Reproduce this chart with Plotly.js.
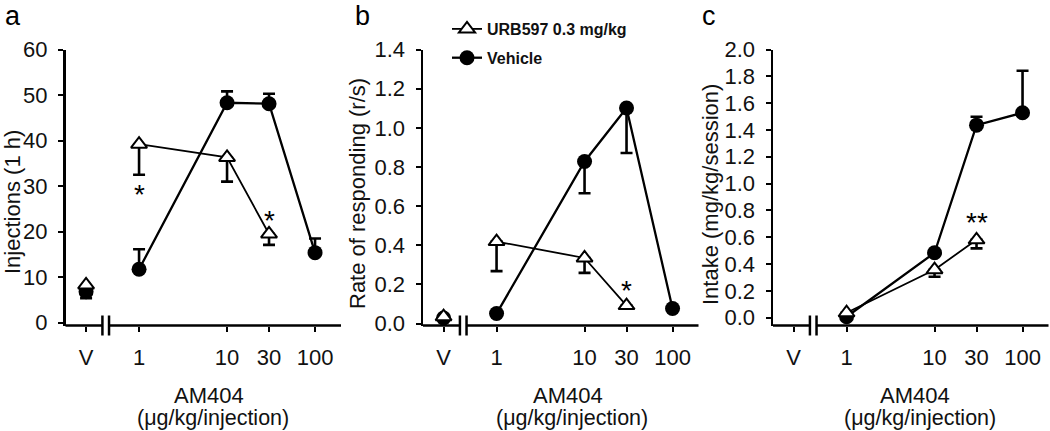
<!DOCTYPE html>
<html>
<head>
<meta charset="utf-8">
<script src="https://cdn.plot.ly/plotly-3.0.1.min.js"></script>
<style>html,body{margin:0;padding:0;background:#fff;}#chart{width:1050px;height:431px;}</style>
</head>
<body>
<div id="chart"></div>
<script>
// ---- data ----
const doses = [1, 10, 30, 100];
const urbDoses = [1, 10, 30];
const tickVals = [0.25, 1, 10, 30, 100];
const tickText = ['V', '1', '10', '30', '100'];
const vehicleX = [0.25];

// Panel a: Injections (1 h)
const aUrbV = [8.3];
const aVehV = [6.8];
const aVehVErr = [1.4];
const aUrb = [39.2, 36.3, 19.5];
const aUrbErr = [6.7, 5.3, 2.4];
const aVeh = [11.75, 48.3, 48.1, 15.4];
const aVehErr = [4.4, 2.5, 2.2, 3.1];
const aStarX = [1, 30];
const aStarY = [29.6, 24.1];
const aStarText = ['*', '*'];

// Panel b: Rate of responding (r/s)
const bUrbV = [0.035];
const bVehV = [0.028];
const bUrb = [0.419, 0.335, 0.092];
const bUrbErr = [0.151, 0.076, 0];
const bVeh = [0.051, 0.828, 1.101, 0.077];
const bVehErr = [0, 0.162, 0.23, 0];
const bStarX = [30];
const bStarY = [0.206];
const bStarText = ['*'];

// Panel c: Intake (mg/kg/session)
const cUrb = [0.037, 0.358, 0.581];
const cUrbErr = [0, 0.052, 0.064];
const cVeh = [0.007, 0.484, 1.436, 1.528];
const cVehErr = [0, 0, 0.062, 0.313];
const cStarX = [30];
const cStarY = [0.765];
const cStarText = ['**'];

const yTitles = ['Injections (1 h)', 'Rate of responding (r/s)', 'Intake (mg/kg/session)'];
const xTitle1 = 'AM404';
const xTitle2 = '(\u03bcg/kg/injection)';
const panelLetters = ['a', 'b', 'c'];
const seriesNames = ['URB597 0.3 mg/kg', 'Vehicle'];

// ---- styles ----
const FONT = 'Arial, "Liberation Sans", sans-serif';
const W = 1050, H = 431;
const axisLeft = [65.5, 423, 773];
const axisWidth = 275.5;
const yDomain = [1 - 325.5 / H, 1 - 49.5 / H];

function circTrace(x, y, err, dir, xa, ya, legend) {
  return {
    x: x, y: y, xaxis: xa, yaxis: ya, type: 'scatter', mode: 'lines+markers',
    name: seriesNames[1], showlegend: !!legend, legendgroup: 'veh', legendrank: 2,
    line: {color: '#000', width: 2.3},
    marker: {symbol: 'circle', size: 15, color: '#000', line: {color: '#000', width: 0}},
    error_y: {type: 'data', symmetric: false,
      array: dir === 'up' ? err : err.map(() => 0),
      arrayminus: dir === 'down' ? err : err.map(() => 0),
      color: '#000', thickness: 2.6, width: 6},
    hoverinfo: 'x+y'
  };
}
function triTrace(x, y, err, xa, ya, legend) {
  const t = {
    x: x, y: y, xaxis: xa, yaxis: ya, type: 'scatter', mode: 'lines+markers',
    name: seriesNames[0], showlegend: !!legend, legendgroup: 'urb', legendrank: 1,
    line: {color: '#000', width: 1.8},
    marker: {symbol: 'triangle-up', size: 14, color: '#fff', line: {color: '#000', width: 2}},
    hoverinfo: 'x+y'
  };
  if (err) {
    t.error_y = {type: 'data', symmetric: false, array: err.map(() => 0), arrayminus: err,
      color: '#000', thickness: 2.6, width: 6};
  }
  return t;
}

const traces = [
  // panel a
  circTrace(vehicleX, aVehV, aVehVErr, 'down', 'x', 'y', false),
  circTrace(doses, aVeh, aVehErr, 'up', 'x', 'y', true),
  triTrace(vehicleX, aUrbV, null, 'x', 'y', false),
  triTrace(urbDoses, aUrb, aUrbErr, 'x', 'y', true),
  // panel b
  circTrace(vehicleX, bVehV, [0], 'down', 'x2', 'y2', false),
  circTrace(doses, bVeh, bVehErr, 'down', 'x2', 'y2', false),
  triTrace(vehicleX, bUrbV, null, 'x2', 'y2', false),
  triTrace(urbDoses, bUrb, bUrbErr, 'x2', 'y2', false),
  // panel c
  circTrace(doses, cVeh, cVehErr, 'up', 'x3', 'y3', false),
  triTrace(urbDoses, cUrb, cUrbErr, 'x3', 'y3', false)
];

const tickFont = {family: FONT, size: 22, color: '#111'};
function xAxis(i, yName) {
  const x0 = axisLeft[i] / W;
  return {
    type: 'log', range: [-0.836, 2.295], domain: [x0, x0 + axisWidth / W],
    anchor: yName, tickmode: 'array', tickvals: tickVals, ticktext: tickText,
    ticks: 'outside', ticklen: 5, tickwidth: 2, tickcolor: '#000',
    showline: false, showgrid: false, zeroline: false, tickfont: tickFont,
    ticklabelstandoff: 7, fixedrange: true
  };
}
function yAxis(i, xName, range, dtick, fmt) {
  return {
    range: range, domain: yDomain, anchor: xName, tick0: 0, dtick: dtick,
    tickformat: fmt, ticks: 'outside', ticklen: 5, tickwidth: 2, tickcolor: '#000',
    showline: true, linewidth: 2.5, linecolor: '#000', showgrid: false, zeroline: false,
    tickfont: tickFont, ticklabelstandoff: 6, fixedrange: true
  };
}

const shapes = [];
['', '2', '3'].forEach(function (s) {
  const xr = 'x' + s + ' domain', yr = 'y' + s + ' domain';
  shapes.push({type: 'line', xref: xr, yref: yr, x0: 0, x1: 0.134, y0: 0, y1: 0, line: {color: '#000', width: 2.5}});
  shapes.push({type: 'line', xref: xr, yref: yr, x0: 0.158, x1: 1, y0: 0, y1: 0, line: {color: '#000', width: 2.5}});
  [0.134, 0.158].forEach(function (bx) {
    shapes.push({type: 'line', xref: xr, yref: yr, ysizemode: 'pixel', yanchor: 0,
      x0: bx, x1: bx, y0: -10, y1: 10, line: {color: '#000', width: 2.5}});
  });
});

const annotations = [];
function star(xs, ys, ts, xa, ya) {
  xs.forEach(function (x, k) {
    annotations.push({x: Math.log10(x), y: ys[k], xref: xa, yref: ya, text: ts[k], showarrow: false,
      yshift: -7, font: {family: FONT, size: 28, color: '#000'}});
  });
}
star(aStarX, aStarY, aStarText, 'x', 'y');
star(bStarX, bStarY, bStarText, 'x2', 'y2');
star(cStarX, cStarY, cStarText, 'x3', 'y3');

const yTitleX = [12, 357, 710];
const yTitleY = [202, 194, 195];
const xT1 = [209, 568, 915];
const xT2 = [213, 572, 920];
const letterX = [13, 362, 709];
for (let i = 0; i < 3; i++) {
  annotations.push({xref: 'paper', yref: 'paper', x: yTitleX[i] / W, y: 1 - yTitleY[i] / H,
    text: yTitles[i], textangle: -90, showarrow: false, xanchor: 'center', yanchor: 'middle',
    font: {family: FONT, size: 22, color: '#111'}});
  annotations.push({xref: 'paper', yref: 'paper', x: xT1[i] / W, y: 1 - 395 / H,
    text: xTitle1, showarrow: false, xanchor: 'center', yanchor: 'middle',
    font: {family: FONT, size: 22, color: '#111'}});
  annotations.push({xref: 'paper', yref: 'paper', x: xT2[i] / W, y: 1 - 418 / H,
    text: xTitle2, showarrow: false, xanchor: 'center', yanchor: 'middle',
    font: {family: FONT, size: 21.5, color: '#111'}});
  annotations.push({xref: 'paper', yref: 'paper', x: letterX[i] / W, y: 1,
    text: panelLetters[i], showarrow: false, xanchor: 'center', yanchor: 'top', borderpad: 0,
    font: {family: FONT, size: 27, color: '#000'}});
}

const layout = {
  width: W, height: H, margin: {l: 0, r: 0, t: 0, b: 0},
  paper_bgcolor: '#fff', plot_bgcolor: 'rgba(0,0,0,0)',
  showlegend: true,
  legend: {x: 447 / W, y: 1 - 12 / H, xanchor: 'left', yanchor: 'top',
    bgcolor: 'rgba(0,0,0,0)', borderwidth: 0, tracegroupgap: 5,
    font: {family: FONT, size: 16, color: '#111', weight: 'bold'}},
  xaxis: xAxis(0, 'y'), yaxis: yAxis(0, 'x', [-0.6, 60], 10, 'd'),
  xaxis2: xAxis(1, 'y2'), yaxis2: yAxis(1, 'x2', [-0.01, 1.4], 0.2, '.1f'),
  xaxis3: xAxis(2, 'y3'), yaxis3: yAxis(2, 'x3', [-0.058, 2.0], 0.2, '.1f'),
  shapes: shapes, annotations: annotations
};

Plotly.newPlot('chart', traces, layout, {displayModeBar: false, staticPlot: true});
</script>
</body>
</html>
